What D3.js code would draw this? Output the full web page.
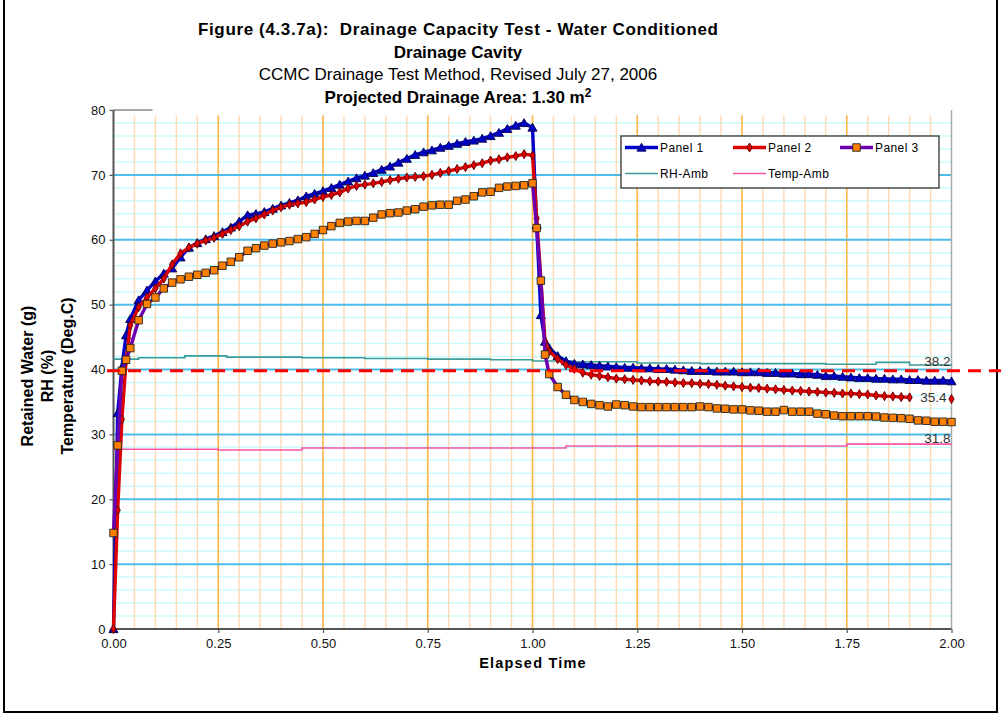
<!DOCTYPE html>
<html><head><meta charset="utf-8">
<script src="https://cdn.jsdelivr.net/npm/d3@7"></script>
<style>body{margin:0;background:#fff;} svg{display:block;} text{white-space:pre;}</style>
</head><body><svg id="c" width="1001" height="719"></svg>
<script>
// ---------------- DATA ----------------
const time = [
  0, 0.01, 0.02, 0.03,
  0.04, 0.06, 0.08, 0.10, 0.12, 0.14, 0.16, 0.18, 0.20, 0.22, 0.24, 0.26,
  0.28, 0.30, 0.32, 0.34, 0.36, 0.38, 0.40, 0.42, 0.44, 0.46, 0.48, 0.50,
  0.52, 0.54, 0.56, 0.58, 0.60, 0.62, 0.64, 0.66, 0.68, 0.70, 0.72, 0.74,
  0.76, 0.78, 0.80, 0.82, 0.84, 0.86, 0.88, 0.90, 0.92, 0.94, 0.96, 0.98,
  1.00,
  1.01, 1.02, 1.03,
  1.04, 1.06, 1.08, 1.10, 1.12, 1.14, 1.16, 1.18, 1.20, 1.22, 1.24, 1.26,
  1.28, 1.30, 1.32, 1.34, 1.36, 1.38, 1.40, 1.42, 1.44, 1.46, 1.48, 1.50,
  1.52, 1.54, 1.56, 1.58, 1.60, 1.62, 1.64, 1.66, 1.68, 1.70, 1.72, 1.74,
  1.76, 1.78, 1.80, 1.82, 1.84, 1.86, 1.88, 1.90, 1.92, 1.94, 1.96, 1.98,
  2.00
];
const panel1 = [
  0, 33.3, 40.3, 45.3,
  47.8, 50.7, 52.2, 53.6, 54.8, 55.6, 57.3, 58.8, 59.5, 60.1, 60.6, 61.2,
  61.9, 62.8, 63.8, 64.0, 64.3, 64.8, 65.3, 65.7, 66.1, 66.7, 67.1, 67.5,
  68.0, 68.5, 69.0, 69.5, 69.9, 70.3, 70.8, 71.3, 71.9, 72.5, 73.1, 73.5,
  73.8, 74.2, 74.5, 74.8, 75.1, 75.3, 75.6, 76.0, 76.5, 77.1, 77.6, 78.0,
  77.3,
  62.3, 48.4, 44.3,
  43.3, 42.1, 41.3, 40.9, 40.8, 40.7, 40.6, 40.5, 40.4, 40.3, 40.3, 40.2,
  40.2, 40.1, 40.1, 40.0, 39.9, 39.8, 39.8, 39.8, 39.7, 39.7, 39.7, 39.6,
  39.6, 39.6, 39.5, 39.5, 39.4, 39.4, 39.3, 39.3, 39.2, 39.0, 39.0, 38.9,
  38.8, 38.7, 38.7, 38.6, 38.6, 38.5, 38.5, 38.4, 38.4, 38.3, 38.3, 38.3,
  38.2
];
const panel2 = [
  0, 18.3, 32.3, 41.3,
  46.8, 49.6, 51.1, 52.5, 54.0, 56.2, 57.9, 58.8, 59.4, 59.9, 60.3, 60.9,
  61.5, 62.1, 62.8, 63.3, 63.9, 64.5, 65.0, 65.4, 65.6, 65.8, 66.2, 66.6,
  66.9, 67.3, 67.9, 68.3, 68.5, 68.7, 68.9, 69.2, 69.4, 69.6, 69.7, 69.8,
  70.0, 70.3, 70.6, 70.9, 71.2, 71.5, 71.8, 72.2, 72.4, 72.7, 72.9, 73.2,
  73.0,
  63.3, 53.8, 44.3,
  42.8, 41.6, 40.7, 40.1, 39.5, 39.2, 39.0, 38.8, 38.6, 38.5, 38.4, 38.3,
  38.2, 38.15, 38.1, 38.0, 37.9, 37.9, 37.8, 37.75, 37.65, 37.5, 37.4, 37.3,
  37.2, 37.15, 37.05, 36.95, 36.85, 36.75, 36.7, 36.6, 36.55, 36.45, 36.4, 36.3,
  36.3, 36.2, 36.15, 36.0, 35.9, 35.85, 35.75, 35.7, null, null, null, null,
  35.45
];
const panel3 = [
  14.8, 28.3, 39.8, 41.5,
  43.3, 47.6, 50.1, 51.1, 52.5, 53.4, 53.9, 54.3, 54.6, 54.9, 55.3, 56.0,
  56.6, 57.3, 58.3, 58.7, 59.1, 59.4, 59.6, 59.8, 60.1, 60.4, 60.9, 61.5,
  62.1, 62.6, 62.8, 62.9, 62.9, 63.4, 63.9, 64.1, 64.2, 64.5, 64.7, 65.1,
  65.3, 65.4, 65.4, 66.0, 66.2, 66.7, 67.3, 67.4, 68.0, 68.2, 68.3, 68.4,
  68.7,
  61.8, 53.7, 42.3,
  39.3, 37.3, 36.1, 35.3, 35.0, 34.7, 34.5, 34.3, 34.6, 34.5, 34.3, 34.2,
  34.2, 34.2, 34.2, 34.2, 34.2, 34.2, 34.3, 34.2, 34.0, 33.95, 33.85, 33.85,
  33.7, 33.65, 33.5, 33.5, 33.75, 33.5, 33.5, 33.5, 33.2, 33.1, 32.9, 32.8,
  32.8, 32.8, 32.8, 32.75, 32.6, 32.55, 32.5, 32.4, 32.15, 32.1, 31.95, 31.95,
  31.9
];
const rhTime = [0, 0.06, 0.17, 0.27, 0.45, 0.60, 0.75, 0.90, 1.00, 1.10, 1.25, 1.40, 1.60, 1.70, 1.82, 1.90, 2.00];
const rhAmb  = [41.6, 41.8, 42.1, 41.9, 41.8, 41.7, 41.6, 41.5, 41.3, 41.2, 41.0, 40.9, 40.9, 40.8, 41.1, 40.7, 40.6];
const tempTime = [0, 0.25, 0.45, 1.08, 1.75, 2.00];
const tempAmb  = [27.7, 27.6, 27.9, 28.2, 28.5, 28.5];
const threshold = 39.8;
const endLabels = ["38.2", "35.4", "31.8"];
const yTicks = [0, 10, 20, 30, 40, 50, 60, 70, 80];
const xTicks = [0, 0.25, 0.5, 0.75, 1.0, 1.25, 1.5, 1.75, 2.0];
const seriesNames = ["Panel 1", "Panel 2", "Panel 3", "RH-Amb", "Temp-Amb"];
const titleLines = [
  "Figure (4.3.7a):  Drainage Capacity Test - Water Conditioned",
  "Drainage Cavity",
  "CCMC Drainage Test Method, Revised July 27, 2006",
  "Projected Drainage Area: 1.30 m"
];
const yTitles = ["Retained Water (g)", "RH (%)", "Temperature (Deg.C)"];
const xTitle = "Elapsed Time";

// ---------------- CHART ----------------
const svg = d3.select("#c");
const FONT = "'Liberation Sans', Arial, sans-serif";
const x = d3.scaleLinear().domain([0, 2]).range([113.5, 951.5]);
const y = d3.scaleLinear().domain([0, 80]).range([629, 110]);

svg.append("rect").attr("width", 1001).attr("height", 719).attr("fill", "#fff");
svg.append("rect").attr("x", 4).attr("y", -5).attr("width", 993).attr("height", 717)
  .attr("fill", "none").attr("stroke", "#000").attr("stroke-width", 2);

const grid = svg.append("g");
for (let v = 2; v < 80; v += 2) {
  if (v % 10 === 0) continue;
  grid.append("line").attr("x1", x(0)).attr("x2", x(2)).attr("y1", y(v)).attr("y2", y(v))
    .attr("stroke", "#c8fbfb").attr("stroke-width", 1.5);
}
for (let i = 1; i < 40; i++) {
  const v = i * 0.05;
  const major = i % 5 === 0;
  grid.append("line").attr("x1", x(v)).attr("x2", x(v)).attr("y1", y(79.2)).attr("y2", y(0))
    .attr("stroke", major ? "#ffb444" : "#ffd9b4").attr("stroke-width", major ? 1.6 : 1.4);
}
for (let v = 10; v < 80; v += 10) {
  grid.append("line").attr("x1", x(0)).attr("x2", x(2)).attr("y1", y(v)).attr("y2", y(v))
    .attr("stroke", "#4cbde9").attr("stroke-width", 2);
}
svg.append("line").attr("x1", x(2)).attr("x2", x(2)).attr("y1", y(80)).attr("y2", y(0))
  .attr("stroke", "#aaa").attr("stroke-width", 1.5);
svg.append("line").attr("x1", x(0)).attr("x2", x(0.093)).attr("y1", y(80)).attr("y2", y(80))
  .attr("stroke", "#888").attr("stroke-width", 1.5);

// axes
const yAxis = d3.axisLeft(y).tickValues(yTicks).tickSize(4).tickPadding(4).tickFormat(d3.format("d"));
const gy = svg.append("g").attr("transform", `translate(${x(0)},0)`).call(yAxis);
const xAxis = d3.axisBottom(x).tickValues(xTicks).tickSize(4).tickPadding(6).tickFormat(d3.format(".2f"));
const gx = svg.append("g").attr("transform", `translate(0,${y(0)})`).call(xAxis);
[gy, gx].forEach(g => {
  g.select(".domain").attr("stroke", "#555").attr("stroke-width", 2);
  g.selectAll(".tick line").attr("stroke", "#555").attr("stroke-width", 1.2);
  g.selectAll(".tick text").attr("font-family", FONT).attr("font-size", 13).attr("fill", "#111");
});
gy.select(".domain").attr("d", `M0,${y(80)}V${y(0)}`);
gx.select(".domain").attr("d", `M${x(0)},0H${x(2)}`);

// ambient lines
const stepLine = d3.line().x(d => x(d[0])).y(d => y(d[1])).curve(d3.curveStepAfter);
svg.append("path").datum(rhTime.map((t, i) => [t, rhAmb[i]]))
  .attr("d", stepLine).attr("fill", "none").attr("stroke", "#3a9c9c").attr("stroke-width", 1.6);
svg.append("path").datum(tempTime.map((t, i) => [t, tempAmb[i]]))
  .attr("d", stepLine).attr("fill", "none").attr("stroke", "#f455a6").attr("stroke-width", 1.6);

// panel series
const line = d3.line().defined(d => d[1] != null).x(d => x(d[0])).y(d => y(d[1]));
const series = [
  { vals: panel1, line: "#0000cc", sym: d3.symbolTriangle, size: 36, fill: "#0000cc", stroke: "#00004a" },
  { vals: panel2, line: "#dd0000", sym: d3.symbolDiamond, size: 24, fill: "#e00000", stroke: "#5a0000" },
  { vals: panel3, line: "#6a00b0", sym: d3.symbolSquare, size: 56, fill: "#ff8000", stroke: "#222" }
];
series.forEach(s => {
  const pts = time.map((t, i) => [t, s.vals[i]]);
  svg.append("path").datum(pts).attr("d", line).attr("fill", "none")
    .attr("stroke", s.line).attr("stroke-width", 3.4).attr("stroke-linejoin", "round");
  svg.append("g").selectAll("path").data(pts.filter(d => d[1] != null)).join("path")
    .attr("transform", d => `translate(${x(d[0])},${y(d[1]) + (s.sym === d3.symbolTriangle ? 1 : 0)})`)
    .attr("d", d3.symbol().type(s.sym).size(s.size))
    .attr("fill", s.fill).attr("stroke", s.stroke).attr("stroke-width", 0.9);
});

// threshold dashed line
svg.append("line").attr("x1", 107).attr("x2", 1001).attr("y1", y(threshold)).attr("y2", y(threshold))
  .attr("stroke", "#ff0000").attr("stroke-width", 3).attr("stroke-dasharray", "13,8");

// end labels
const lbl = svg.append("g").attr("text-anchor", "end").attr("font-family", FONT)
  .attr("font-size", 13.5).attr("fill", "#333");
lbl.append("text").attr("x", x(2) - 1).attr("y", y(+endLabels[0]) - 15).text(endLabels[0]);
lbl.append("text").attr("x", x(2) - 5).attr("y", y(+endLabels[1]) + 3).text(endLabels[1]);
lbl.append("text").attr("x", x(2) - 1).attr("y", y(+endLabels[2]) + 20).text(endLabels[2]);

// titles
const tY = [35, 57.5, 80, 103];
titleLines.forEach((t, i) => {
  const el = svg.append("text").attr("x", 458).attr("y", tY[i]).attr("text-anchor", "middle")
    .attr("font-family", FONT).attr("font-size", 17).attr("fill", "#000")
    .attr("font-weight", i === 2 ? "normal" : "bold").text(t);
  if (i === 0) el.attr("textLength", 520).attr("lengthAdjust", "spacing");
  if (i === 3) el.append("tspan").attr("dy", -6).attr("font-size", 12).text("2");
});
yTitles.forEach((t, i) => {
  svg.append("text").attr("transform", `translate(${33 + i * 20},376) rotate(-90)`)
    .attr("text-anchor", "middle").attr("font-family", FONT).attr("font-size", 16)
    .attr("font-weight", "bold").attr("fill", "#000").text(t);
});
svg.append("text").attr("x", 533).attr("y", 668).attr("text-anchor", "middle")
  .attr("font-family", FONT).attr("font-size", 14.5).attr("font-weight", "bold")
  .attr("letter-spacing", 1.2).text(xTitle);

// legend
const lg = svg.append("g");
lg.append("rect").attr("x", 621).attr("y", 136).attr("width", 318).attr("height", 52)
  .attr("fill", "#fff").attr("stroke", "#333").attr("stroke-width", 1.3);
const legendItems = [
  { name: seriesNames[0], x: 625, y: 147.5, color: "#0000cc", w: 3.4, s: series[0] },
  { name: seriesNames[1], x: 733, y: 147.5, color: "#dd0000", w: 3.4, s: series[1] },
  { name: seriesNames[2], x: 840, y: 147.5, color: "#6a00b0", w: 3.4, s: series[2] },
  { name: seriesNames[3], x: 625, y: 173.5, color: "#3a9c9c", w: 1.6, s: null },
  { name: seriesNames[4], x: 733, y: 173.5, color: "#f455a6", w: 1.6, s: null }
];
legendItems.forEach(it => {
  lg.append("line").attr("x1", it.x).attr("x2", it.x + 33).attr("y1", it.y).attr("y2", it.y)
    .attr("stroke", it.color).attr("stroke-width", it.w);
  if (it.s) lg.append("path").attr("transform", `translate(${it.x + 16.5},${it.y + (it.s.sym === d3.symbolTriangle ? 1 : 0)})`)
    .attr("d", d3.symbol().type(it.s.sym).size(it.s.size)).attr("fill", it.s.fill)
    .attr("stroke", it.s.stroke).attr("stroke-width", 0.9);
  lg.append("text").attr("x", it.x + 35).attr("y", it.y + 4).attr("font-family", FONT)
    .attr("font-size", 12).attr("letter-spacing", 0.4).attr("fill", "#000").text(it.name);
});
</script></body></html>
